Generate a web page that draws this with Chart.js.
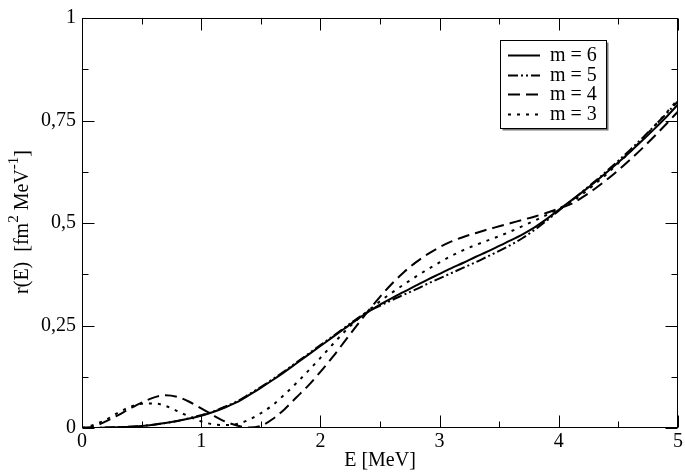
<!DOCTYPE html>
<html><head><meta charset="utf-8">
<script src="https://cdn.jsdelivr.net/npm/chart.js@4.4.1/dist/chart.umd.min.js"></script>
<style>html,body{margin:0;padding:0;background:#fff;}canvas{display:block;}</style>
</head><body>
<canvas id="c" width="685" height="473"></canvas>
<script>
// ---- data ----
const energies = [0,0.1,0.2,0.3,0.4,0.5,0.6,0.7,0.8,0.9,1.0,
  1.1,1.2,1.3,1.4,1.5,1.6,1.7,1.8,1.9,2.0,
  2.1,2.2,2.3,2.4,2.5,2.6,2.7,2.8,2.9,3.0,
  3.1,3.2,3.3,3.4,3.5,3.6,3.7,3.8,3.9,4.0,
  4.1,4.2,4.3,4.4,4.5,4.6,4.7,4.8,4.9,5.0];
const seriesLabels = ['m = 6','m = 5','m = 4','m = 3'];
const m6 = [0,0,0.001,0.002,0.003,0.005,0.008,0.012,0.017,0.023,0.03,
  0.039,0.05,0.063,0.08,0.098,0.117,0.137,0.158,0.179,0.2,
  0.221,0.242,0.263,0.283,0.301,0.317,0.332,0.347,0.362,0.376,
  0.39,0.403,0.417,0.43,0.444,0.458,0.473,0.49,0.51,0.532,
  0.554,0.576,0.599,0.623,0.648,0.674,0.701,0.729,0.758,0.789];
const m5 = [0,0,0.001,0.002,0.003,0.005,0.008,0.012,0.017,0.024,0.031,
  0.04,0.052,0.065,0.082,0.1,0.119,0.139,0.16,0.181,0.202,
  0.223,0.244,0.265,0.284,0.298,0.312,0.325,0.338,0.352,0.365,
  0.378,0.391,0.404,0.418,0.432,0.447,0.464,0.484,0.506,0.53,
  0.553,0.577,0.601,0.626,0.652,0.679,0.707,0.736,0.766,0.797];
const m4 = [0,0.004,0.016,0.031,0.047,0.062,0.074,0.08,0.076,0.064,0.048,
  0.031,0.016,0.006,0.001,0.005,0.022,0.046,0.075,0.104,0.137,
  0.172,0.21,0.248,0.285,0.32,0.352,0.38,0.404,0.424,0.441,
  0.455,0.466,0.475,0.484,0.492,0.5,0.508,0.516,0.525,0.535,
  0.546,0.563,0.583,0.605,0.629,0.655,0.682,0.711,0.741,0.772];
const m3 = [0,0.008,0.02,0.037,0.051,0.059,0.06,0.054,0.041,0.028,0.016,
  0.009,0.007,0.01,0.02,0.036,0.056,0.082,0.11,0.14,0.171,
  0.203,0.234,0.262,0.286,0.309,0.33,0.35,0.369,0.387,0.404,
  0.42,0.434,0.446,0.457,0.468,0.48,0.493,0.506,0.52,0.535,
  0.551,0.571,0.594,0.619,0.646,0.674,0.704,0.736,0.768,0.802];
const xTickLabels = ['0','1','2','3','4','5'];
const yTickLabels = ['0','0,25','0,5','0,75','1'];
const xMajorTicks = [0,1,2,3,4,5];
const xMinorTicks = [0.5,1.5,2.5,3.5,4.5];
const yMajorTicks = [0,0.25,0.5,0.75,1];
const yMinorTicks = [0.125,0.375,0.625,0.875];

const FONT = 'Liberation Serif';
const seriesValues = [m6, m5, m4, m3];
const dashes = [[], [10,3,2,3,2,3], [12,6], [3,6]];

const datasets = seriesValues.map((vals, i) => ({
  label: seriesLabels[i],
  data: energies.map((e, j) => ({x: e, y: vals[j]})),
  borderColor: '#000',
  borderWidth: 2,
  borderDash: dashes[i],
  pointRadius: 0,
  fill: false,
  cubicInterpolationMode: 'monotone'
}));

const decoPlugin = {
  id: 'deco',
  afterDatasetsDraw(chart) {
    const ctx = chart.ctx, a = chart.chartArea;
    const xs = chart.scales.x, ys = chart.scales.y;
    ctx.save();
    ctx.strokeStyle = '#000';
    ctx.lineWidth = 1;
    ctx.setLineDash([]);
    ctx.strokeRect(Math.round(a.left) + 0.5, Math.round(a.top) + 0.5,
      Math.round(a.right - a.left) - 1, Math.round(a.bottom - a.top) - 1);
    const L = Math.round(a.left) + 0.5, R = Math.round(a.right) - 0.5;
    const T = Math.round(a.top) + 0.5, B = Math.round(a.bottom) - 0.5;
    ctx.beginPath();
    const xt = (v, len) => {
      const p = Math.round(xs.getPixelForValue(v)) + 0.5;
      ctx.moveTo(p, B); ctx.lineTo(p, B - len);
      ctx.moveTo(p, T); ctx.lineTo(p, T + len);
    };
    const yt = (v, len) => {
      const p = Math.round(ys.getPixelForValue(v)) + 0.5;
      ctx.moveTo(L, p); ctx.lineTo(L + len, p);
      ctx.moveTo(R, p); ctx.lineTo(R - len, p);
    };
    xMajorTicks.forEach(v => xt(v, 12));
    xMinorTicks.forEach(v => xt(v, 6));
    yMajorTicks.forEach(v => yt(v, 12));
    yMinorTicks.forEach(v => yt(v, 6));
    ctx.stroke();
    ctx.restore();
  },
  afterDraw(chart) {
    const ctx = chart.ctx;
    ctx.save();
    // legend box
    const bx = 500.5, by = 40.5, bw = 106, bh = 88;
    ctx.fillStyle = '#777';
    ctx.fillRect(bx + 2, by + 2, bw, bh);
    ctx.fillStyle = '#fff';
    ctx.fillRect(bx, by, bw, bh);
    ctx.strokeStyle = '#000';
    ctx.lineWidth = 1;
    ctx.strokeRect(bx, by, bw, bh);
    ctx.font = '20px "' + FONT + '"';
    ctx.textBaseline = 'middle';
    ctx.textAlign = 'left';
    chart.data.datasets.forEach((ds, i) => {
      const y = 55 + i * 19.5;
      ctx.beginPath();
      ctx.setLineDash(ds.borderDash);
      ctx.lineWidth = 2;
      ctx.moveTo(508, Math.round(y) + 0.5);
      ctx.lineTo(540, Math.round(y) + 0.5);
      ctx.stroke();
      ctx.setLineDash([]);
      ctx.fillStyle = '#000';
      ctx.fillText(ds.label, 550, y + 1);
    });
    // y-axis title with superscripts
    const parts = [
      {t: 'r(E)  [fm', s: false},
      {t: '2', s: true},
      {t: ' MeV', s: false},
      {t: '-1', s: true},
      {t: ']', s: false}
    ];
    const big = '20px "' + FONT + '"', small = '15px "' + FONT + '"';
    let total = 0;
    parts.forEach(p => { ctx.font = p.s ? small : big; p.w = ctx.measureText(p.t).width; total += p.w; });
    ctx.translate(28, 222);
    ctx.rotate(-Math.PI / 2);
    ctx.textBaseline = 'alphabetic';
    let x = -total / 2;
    parts.forEach(p => {
      ctx.font = p.s ? small : big;
      ctx.fillText(p.t, x, p.s ? -10 : 0);
      x += p.w;
    });
    ctx.restore();
  }
};

new Chart(document.getElementById('c'), {
  type: 'line',
  data: { datasets },
  options: {
    responsive: false,
    devicePixelRatio: 1,
    animation: false,
    layout: { padding: { top: 10, right: 4, left: 0, bottom: 0 } },
    plugins: { legend: { display: false }, tooltip: { enabled: false } },
    scales: {
      x: {
        type: 'linear', min: 0, max: 5,
        afterFit: s => { s.height = 45; },
        afterBuildTicks: s => { s.ticks = xMajorTicks.map(v => ({value: v})); },
        ticks: {
          color: '#000', padding: 2, maxRotation: 0, autoSkip: false,
          font: { family: FONT, size: 20 },
          callback: (v, i) => xTickLabels[i]
        },
        grid: { display: false, drawTicks: false },
        border: { display: false },
        title: { display: true, text: 'E [MeV]', color: '#000', font: { family: FONT, size: 20 }, padding: 0 }
      },
      y: {
        type: 'linear', min: 0, max: 1,
        afterFit: s => { s.width = 82; },
        afterBuildTicks: s => { s.ticks = yMajorTicks.map(v => ({value: v})); },
        ticks: {
          color: '#000', padding: 6, autoSkip: false,
          font: { family: FONT, size: 20 },
          callback: (v, i) => yTickLabels[i]
        },
        grid: { display: false, drawTicks: false },
        border: { display: false }
      }
    }
  },
  plugins: [decoPlugin]
});
</script>
</body></html>
